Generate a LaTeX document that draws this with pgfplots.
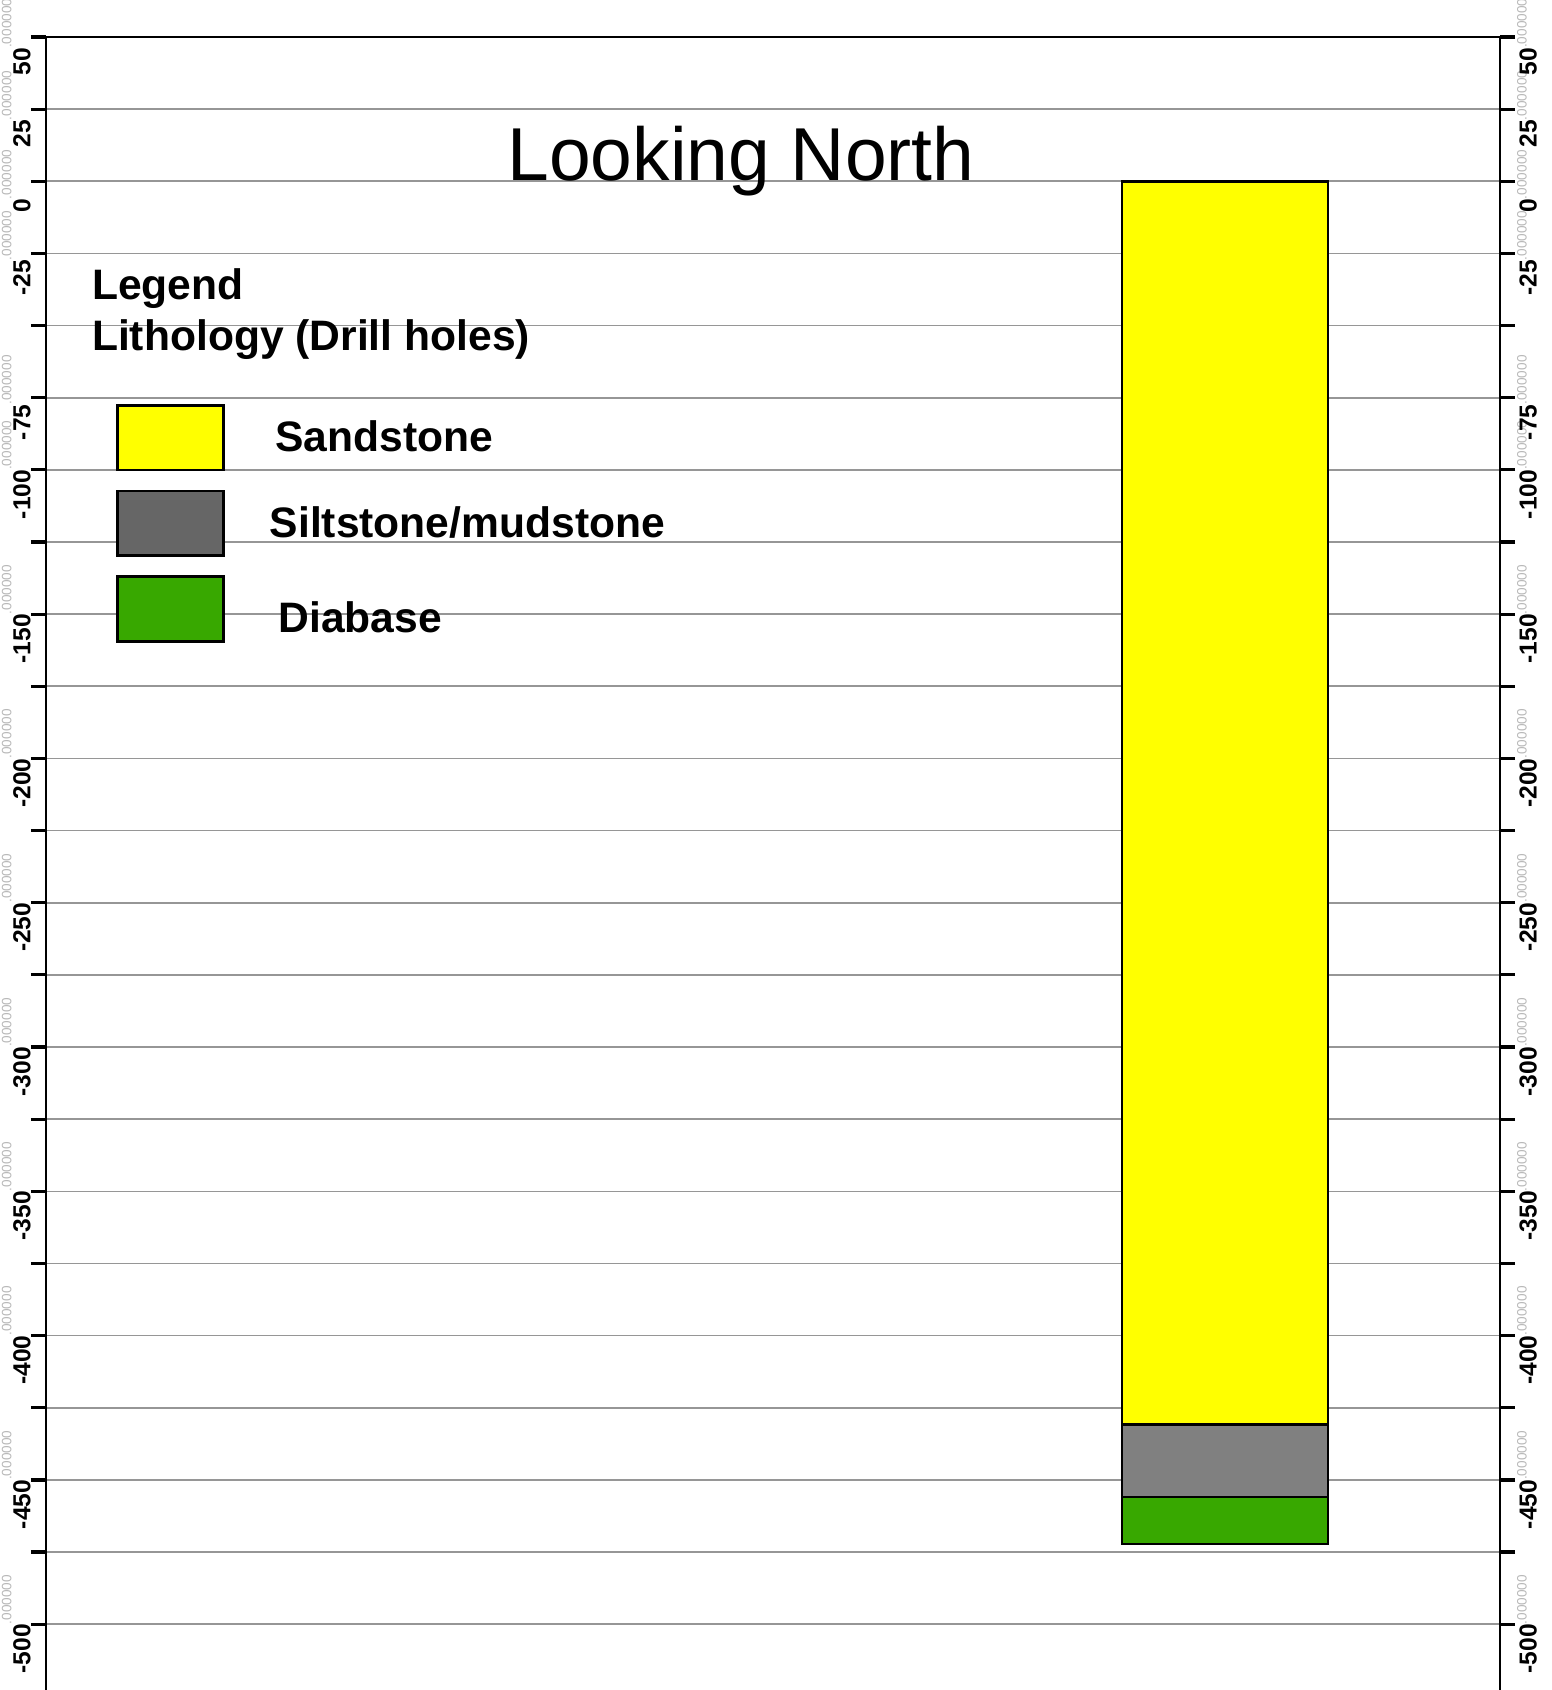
\documentclass[border=0pt]{standalone}
\usepackage{pgfplots}
\pgfplotsset{compat=1.18}
\usepackage{fontspec}
\setmainfont{Liberation Sans}

\definecolor{sand}{RGB}{255,255,0}
\definecolor{siltbar}{RGB}{128,128,128}
\definecolor{siltleg}{RGB}{102,102,102}
\definecolor{diab}{RGB}{56,168,0}
\definecolor{gridc}{RGB}{150,150,150}
\definecolor{ghost}{RGB}{185,185,185}

\pgfplotsset{legbox/.style={legend image code/.code={\draw[##1] (0pt,-16.15pt) rectangle (52.8pt,16.15pt);}}}

\newcommand\tl[1]{\textbf{#1}\raisebox{9.5pt}{\fontsize{6.8}{7}\selectfont\color{ghost}.000000}}
\newcommand\tr[1]{\textbf{#1}\raisebox{5pt}{\fontsize{6.8}{7}\selectfont\color{ghost}.000000}}

\begin{document}
\begin{tikzpicture}
\begin{axis}[
  width=727pt, height=826.5pt, scale only axis,
  xmin=0, xmax=727, ymin=-522.8, ymax=50,
  axis x line=top, axis y line=box,
  axis line style={-, line width=1.4pt, black},
  xtick=\empty,
  ytick={-500,-475,...,50},
  ytick pos=both,
  tick align=outside,
  major tick length=7.5pt,
  every tick/.style={black, line width=1.6pt},
  ymajorgrids,
  major grid style={gridc, line width=0.8pt},
  yticklabels={\tl{-500},,\tl{-450},,\tl{-400},,\tl{-350},,\tl{-300},,\tl{-250},,\tl{-200},,\tl{-150},,\tl{-100},\tl{-75},,\tl{-25},\tl{0},\tl{25},\tl{50}},
  yticklabel style={rotate=90, anchor=south, inner sep=0pt, font=\fontsize{12.3}{13}\selectfont},
  ybar stacked, bar width=103pt,
  legend style={at={(axis description cs:0.0484,0.7779)}, anchor=north west,
    draw=none, fill=none, inner sep=0pt, outer sep=0pt,
    row sep=9.2pt, column sep=22.6pt,
    nodes={inner sep=0pt},
    font=\bfseries\fontsize{21.3}{22}\selectfont},
  legend cell align=left,
]
\addplot[fill=sand, draw=black, line width=1.3pt, forget plot] coordinates {(589.5,-430.9)};
\addplot[fill=siltbar, draw=black, line width=1.3pt, forget plot] coordinates {(589.5,-25.0)};
\addplot[fill=diab, draw=black, line width=1.3pt, forget plot] coordinates {(589.5,-16.3)};

\addlegendimage{legbox, fill=sand, draw=black, line width=1.3pt}
\addlegendentry{\hspace*{2.7pt}Sandstone}
\addlegendimage{legbox, fill=siltleg, draw=black, line width=1.3pt}
\addlegendentry{Siltstone/mudstone}
\addlegendimage{legbox, fill=diab, draw=black, line width=1.3pt}
\addlegendentry{\rule{0pt}{25.5pt}\hspace*{4.4pt}Diabase}

\node[anchor=base, font=\fontsize{37.5}{40}\selectfont] at (axis description cs:0.478,0.9129) {Looking North};
\node[anchor=base west, inner sep=0pt, font=\bfseries\fontsize{21.3}{22}\selectfont] at (axis description cs:0.0314,0.8409) {Legend};
\node[anchor=base west, inner sep=0pt, font=\bfseries\fontsize{21.3}{22}\selectfont] at (axis description cs:0.0314,0.8106) {Lithology (Drill holes)};
\end{axis}
\begin{axis}[
  width=727pt, height=826.5pt, scale only axis,
  xmin=0, xmax=727, ymin=-522.8, ymax=50,
  hide x axis,
  axis y line*=right,
  y axis line style={draw=none},
  ytick={-500,-475,...,50},
  ytick style={draw=none},
  yticklabel pos=right,
  yticklabel shift=8.4pt,
  yticklabels={\tr{-500},,\tr{-450},,\tr{-400},,\tr{-350},,\tr{-300},,\tr{-250},,\tr{-200},,\tr{-150},,\tr{-100},\tr{-75},,\tr{-25},\tr{0},\tr{25},\tr{50}},
  yticklabel style={rotate=90, anchor=north, inner sep=0pt, font=\fontsize{12.3}{13}\selectfont},
]
\addplot[draw=none, forget plot] coordinates {(0,0)};
\end{axis}
\pgfresetboundingbox
\useasboundingbox (-23pt,0pt) rectangle (752.5pt,845pt);
\end{tikzpicture}
\end{document}
